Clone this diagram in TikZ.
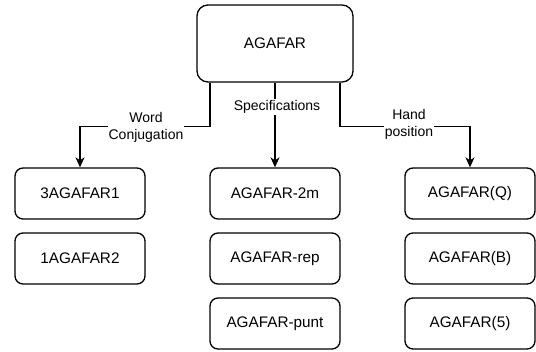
\documentclass[tikz,border=0pt]{standalone}
\usepackage{fontspec}
\setmainfont{Liberation Sans}
\usetikzlibrary{arrows.meta}
\begin{document}
\begin{tikzpicture}[x=1pt,y=-1pt,
  box/.style={draw=black, line width=1.3pt, rounded corners=8pt, minimum width=130pt, minimum height=51pt, inner sep=0pt, font=\fontsize{15.3}{18}\selectfont, align=center},
  topbox/.style={box, rounded corners=11pt, minimum width=156pt, minimum height=77pt},
  conn/.style={draw=black, line width=1.3pt, -{Stealth[length=10pt,width=9pt,inset=3pt]}},
  lbl/.style={fill=white, inner sep=1pt, align=center, font=\fontsize{14}{17}\selectfont}]
\useasboundingbox (0,0) rectangle (536,352);
\node[topbox] (top) at (275,43.5) {AGAFAR};
\node[box] (a1) at (80,193.5) {3AGAFAR1};
\node[box] (a2) at (80,258.5) {1AGAFAR2};
\node[box] (b1) at (275,193.5) {AGAFAR-2m};
\node[box] (b2) at (275,258.5) {AGAFAR-rep};
\node[box] (b3) at (275,323.5) {AGAFAR-punt};
\node[box] (c1) at (470,193.5) {AGAFAR(Q)};
\node[box] (c2) at (470,258.5) {AGAFAR(B)};
\node[box] (c3) at (470,323.5) {AGAFAR(5)};
\draw[conn] ([xshift=-65pt]top.south) -- ++(0,44) -| (a1.north);
\draw[conn] (top.south) -- (b1.north);
\draw[conn] ([xshift=65pt]top.south) -- ++(0,44) -| (c1.north);
\node[lbl] (la) at (146,127) {Word\\Conjugation};
\node[lbl] (lb) at (277,107) {Specifications};
\node[lbl] (lc) at (409,124) {Hand\\position};
\end{tikzpicture}
\end{document}
